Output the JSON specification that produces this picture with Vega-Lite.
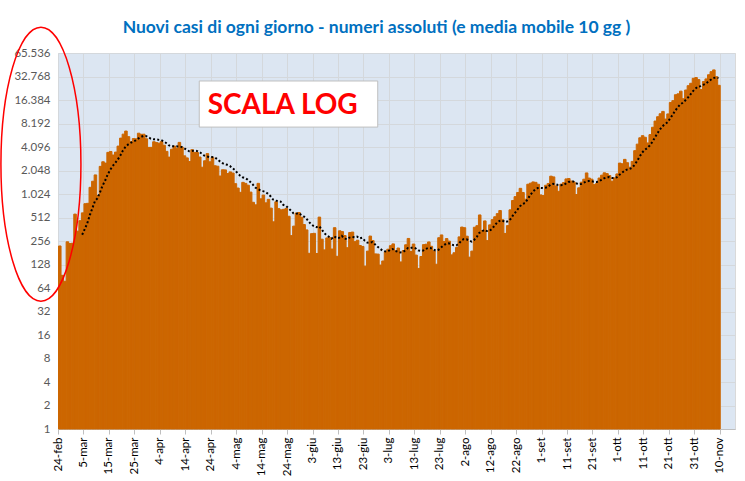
{
  "$schema": "https://vega.github.io/schema/vega-lite/v6.json",
  "autosize": {"type": "none"},
  "width": 677,
  "height": 376,
  "padding": {"left": 58, "top": 53, "right": 10, "bottom": 52},
  "background": "#FFFFFF",
  "title": {
    "text": "Nuovi casi di ogni giorno - numeri assoluti (e media mobile 10 gg )",
    "font": "Lato", "fontSize": 17.5, "fontWeight": "bold", "color": "#0070C0",
    "anchor": "middle", "dx": -20, "dy": 28, "offset": 16
  },
  "resolve": {"axis": {"x": "independent", "y": "independent"}},
  "config": {
    "view": {"fill": "#DCE6F2", "stroke": "#D9D9D9"},
    "axis": {"labelFont": "Lato", "labelFontSize": 11.5, "labelColor": "#595959", "gridColor": "#D4D8DC", "gridWidth": 1, "domainColor": "#BFBFBF", "tickColor": "#BFBFBF", "title": null, "labelOverlap": false},
    "axisX": {"labelOverlap": false, "labelSeparation": 0}
  },
  "datasets": {
    "casi": [
      {"d":"2020-02-24","n":221},{"d":"2020-02-25","n":93},{"d":"2020-02-26","n":78},{"d":"2020-02-27","n":250},{"d":"2020-02-28","n":238},{"d":"2020-02-29","n":240},
      {"d":"2020-03-01","n":566},{"d":"2020-03-02","n":342},{"d":"2020-03-03","n":466},{"d":"2020-03-04","n":587},{"d":"2020-03-05","n":769},{"d":"2020-03-06","n":778},{"d":"2020-03-07","n":1247},{"d":"2020-03-08","n":1492},{"d":"2020-03-09","n":1797},{"d":"2020-03-10","n":977},{"d":"2020-03-11","n":2313},{"d":"2020-03-12","n":2651},{"d":"2020-03-13","n":2547},{"d":"2020-03-14","n":3497},{"d":"2020-03-15","n":3590},{"d":"2020-03-16","n":3233},{"d":"2020-03-17","n":3526},{"d":"2020-03-18","n":4207},{"d":"2020-03-19","n":5322},{"d":"2020-03-20","n":5986},{"d":"2020-03-21","n":6557},{"d":"2020-03-22","n":5560},{"d":"2020-03-23","n":4789},{"d":"2020-03-24","n":5249},{"d":"2020-03-25","n":5210},{"d":"2020-03-26","n":6153},{"d":"2020-03-27","n":5959},{"d":"2020-03-28","n":5974},{"d":"2020-03-29","n":5217},{"d":"2020-03-30","n":4050},{"d":"2020-03-31","n":4053},
      {"d":"2020-04-01","n":4782},{"d":"2020-04-02","n":4668},{"d":"2020-04-03","n":4585},{"d":"2020-04-04","n":4805},{"d":"2020-04-05","n":4316},{"d":"2020-04-06","n":3599},{"d":"2020-04-07","n":3039},{"d":"2020-04-08","n":3836},{"d":"2020-04-09","n":4204},{"d":"2020-04-10","n":3951},{"d":"2020-04-11","n":4694},{"d":"2020-04-12","n":4092},{"d":"2020-04-13","n":3153},{"d":"2020-04-14","n":2972},{"d":"2020-04-15","n":2667},{"d":"2020-04-16","n":3786},{"d":"2020-04-17","n":3493},{"d":"2020-04-18","n":3491},{"d":"2020-04-19","n":3047},{"d":"2020-04-20","n":2256},{"d":"2020-04-21","n":2729},{"d":"2020-04-22","n":3370},{"d":"2020-04-23","n":2646},{"d":"2020-04-24","n":3021},{"d":"2020-04-25","n":2357},{"d":"2020-04-26","n":2324},{"d":"2020-04-27","n":1739},{"d":"2020-04-28","n":2091},{"d":"2020-04-29","n":2086},{"d":"2020-04-30","n":1872},
      {"d":"2020-05-01","n":1965},{"d":"2020-05-02","n":1900},{"d":"2020-05-03","n":1389},{"d":"2020-05-04","n":1221},{"d":"2020-05-05","n":1075},{"d":"2020-05-06","n":1444},{"d":"2020-05-07","n":1401},{"d":"2020-05-08","n":1327},{"d":"2020-05-09","n":1083},{"d":"2020-05-10","n":802},{"d":"2020-05-11","n":744},{"d":"2020-05-12","n":1402},{"d":"2020-05-13","n":888},{"d":"2020-05-14","n":992},{"d":"2020-05-15","n":789},{"d":"2020-05-16","n":875},{"d":"2020-05-17","n":675},{"d":"2020-05-18","n":451},{"d":"2020-05-19","n":813},{"d":"2020-05-20","n":665},{"d":"2020-05-21","n":642},{"d":"2020-05-22","n":652},{"d":"2020-05-23","n":669},{"d":"2020-05-24","n":531},{"d":"2020-05-25","n":300},{"d":"2020-05-26","n":397},{"d":"2020-05-27","n":584},{"d":"2020-05-28","n":593},{"d":"2020-05-29","n":516},{"d":"2020-05-30","n":416},{"d":"2020-05-31","n":355},
      {"d":"2020-06-01","n":178},{"d":"2020-06-02","n":318},{"d":"2020-06-03","n":321},{"d":"2020-06-04","n":177},{"d":"2020-06-05","n":518},{"d":"2020-06-06","n":270},{"d":"2020-06-07","n":197},{"d":"2020-06-08","n":280},{"d":"2020-06-09","n":283},{"d":"2020-06-10","n":202},{"d":"2020-06-11","n":379},{"d":"2020-06-12","n":163},{"d":"2020-06-13","n":346},{"d":"2020-06-14","n":338},{"d":"2020-06-15","n":301},{"d":"2020-06-16","n":210},{"d":"2020-06-17","n":329},{"d":"2020-06-18","n":333},{"d":"2020-06-19","n":251},{"d":"2020-06-20","n":262},{"d":"2020-06-21","n":224},{"d":"2020-06-22","n":218},{"d":"2020-06-23","n":122},{"d":"2020-06-24","n":190},{"d":"2020-06-25","n":296},{"d":"2020-06-26","n":259},{"d":"2020-06-27","n":175},{"d":"2020-06-28","n":174},{"d":"2020-06-29","n":126},{"d":"2020-06-30","n":142},
      {"d":"2020-07-01","n":187},{"d":"2020-07-02","n":201},{"d":"2020-07-03","n":223},{"d":"2020-07-04","n":235},{"d":"2020-07-05","n":192},{"d":"2020-07-06","n":208},{"d":"2020-07-07","n":138},{"d":"2020-07-08","n":193},{"d":"2020-07-09","n":229},{"d":"2020-07-10","n":276},{"d":"2020-07-11","n":188},{"d":"2020-07-12","n":234},{"d":"2020-07-13","n":169},{"d":"2020-07-14","n":114},{"d":"2020-07-15","n":162},{"d":"2020-07-16","n":230},{"d":"2020-07-17","n":233},{"d":"2020-07-18","n":249},{"d":"2020-07-19","n":219},{"d":"2020-07-20","n":190},{"d":"2020-07-21","n":129},{"d":"2020-07-22","n":282},{"d":"2020-07-23","n":306},{"d":"2020-07-24","n":252},{"d":"2020-07-25","n":275},{"d":"2020-07-26","n":255},{"d":"2020-07-27","n":170},{"d":"2020-07-28","n":181},{"d":"2020-07-29","n":212},{"d":"2020-07-30","n":289},{"d":"2020-07-31","n":386},
      {"d":"2020-08-01","n":379},{"d":"2020-08-02","n":295},{"d":"2020-08-03","n":159},{"d":"2020-08-04","n":190},{"d":"2020-08-05","n":384},{"d":"2020-08-06","n":402},{"d":"2020-08-07","n":552},{"d":"2020-08-08","n":347},{"d":"2020-08-09","n":463},{"d":"2020-08-10","n":259},{"d":"2020-08-11","n":412},{"d":"2020-08-12","n":481},{"d":"2020-08-13","n":523},{"d":"2020-08-14","n":574},{"d":"2020-08-15","n":629},{"d":"2020-08-16","n":479},{"d":"2020-08-17","n":320},{"d":"2020-08-18","n":403},{"d":"2020-08-19","n":642},{"d":"2020-08-20","n":845},{"d":"2020-08-21","n":947},{"d":"2020-08-22","n":1071},{"d":"2020-08-23","n":1210},{"d":"2020-08-24","n":1071},{"d":"2020-08-25","n":878},{"d":"2020-08-26","n":1367},{"d":"2020-08-27","n":1411},{"d":"2020-08-28","n":1462},{"d":"2020-08-29","n":1444},{"d":"2020-08-30","n":1365},{"d":"2020-08-31","n":996},
      {"d":"2020-09-01","n":978},{"d":"2020-09-02","n":1326},{"d":"2020-09-03","n":1397},{"d":"2020-09-04","n":1733},{"d":"2020-09-05","n":1695},{"d":"2020-09-06","n":1297},{"d":"2020-09-07","n":1108},{"d":"2020-09-08","n":1370},{"d":"2020-09-09","n":1434},{"d":"2020-09-10","n":1597},{"d":"2020-09-11","n":1616},{"d":"2020-09-12","n":1501},{"d":"2020-09-13","n":1458},{"d":"2020-09-14","n":1008},{"d":"2020-09-15","n":1229},{"d":"2020-09-16","n":1452},{"d":"2020-09-17","n":1585},{"d":"2020-09-18","n":1907},{"d":"2020-09-19","n":1638},{"d":"2020-09-20","n":1587},{"d":"2020-09-21","n":1350},{"d":"2020-09-22","n":1392},{"d":"2020-09-23","n":1640},{"d":"2020-09-24","n":1786},{"d":"2020-09-25","n":1912},{"d":"2020-09-26","n":1869},{"d":"2020-09-27","n":1766},{"d":"2020-09-28","n":1494},{"d":"2020-09-29","n":1648},{"d":"2020-09-30","n":1851},
      {"d":"2020-10-01","n":2548},{"d":"2020-10-02","n":2499},{"d":"2020-10-03","n":2844},{"d":"2020-10-04","n":2578},{"d":"2020-10-05","n":2257},{"d":"2020-10-06","n":2677},{"d":"2020-10-07","n":3678},{"d":"2020-10-08","n":4458},{"d":"2020-10-09","n":5372},{"d":"2020-10-10","n":5724},{"d":"2020-10-11","n":5456},{"d":"2020-10-12","n":4619},{"d":"2020-10-13","n":5901},{"d":"2020-10-14","n":7332},{"d":"2020-10-15","n":8804},{"d":"2020-10-16","n":10010},{"d":"2020-10-17","n":10925},{"d":"2020-10-18","n":11705},{"d":"2020-10-19","n":9338},{"d":"2020-10-20","n":10874},{"d":"2020-10-21","n":15199},{"d":"2020-10-22","n":16079},{"d":"2020-10-23","n":19143},{"d":"2020-10-24","n":19644},{"d":"2020-10-25","n":21273},{"d":"2020-10-26","n":17012},{"d":"2020-10-27","n":21994},{"d":"2020-10-28","n":24991},{"d":"2020-10-29","n":26831},{"d":"2020-10-30","n":31084},{"d":"2020-10-31","n":31758},
      {"d":"2020-11-01","n":29907},{"d":"2020-11-02","n":22253},{"d":"2020-11-03","n":28244},{"d":"2020-11-04","n":30550},{"d":"2020-11-05","n":34505},{"d":"2020-11-06","n":37809},{"d":"2020-11-07","n":39811},{"d":"2020-11-08","n":32616},{"d":"2020-11-09","n":25271}
    ],
    "box": [{"x1":"2020-04-19T12:00:00Z","x2":"2020-06-28T15:00:00Z","y1":7370,"y2":28700}],
    "label": [{"x":"2020-05-22T07:00:00Z","y":13700,"t":"SCALA LOG"}],
    "ring": [{"x":"2020-02-17T07:00:00Z","y":2470}]
  },
  "layer": [
    {
      "data": {"name": "casi"},
      "mark": {"type": "bar", "color": "#CC6600", "stroke": "#CC6600", "strokeWidth": 1, "binSpacing": 0},
      "encoding": {
        "x": {"field": "d", "type": "temporal", "timeUnit": "utcyearmonthdate",
          "scale": {"type": "utc", "domain": [{"year": 2020, "month": 2, "date": 24, "utc": true}, {"year": 2020, "month": 11, "date": 16, "utc": true}]},
          "axis": {
            "values": [
              {"year":2020,"month":2,"date":24,"utc":true},{"year":2020,"month":3,"date":5,"utc":true},{"year":2020,"month":3,"date":15,"utc":true},{"year":2020,"month":3,"date":25,"utc":true},
              {"year":2020,"month":4,"date":4,"utc":true},{"year":2020,"month":4,"date":14,"utc":true},{"year":2020,"month":4,"date":24,"utc":true},
              {"year":2020,"month":5,"date":4,"utc":true},{"year":2020,"month":5,"date":14,"utc":true},{"year":2020,"month":5,"date":24,"utc":true},
              {"year":2020,"month":6,"date":3,"utc":true},{"year":2020,"month":6,"date":13,"utc":true},{"year":2020,"month":6,"date":23,"utc":true},
              {"year":2020,"month":7,"date":3,"utc":true},{"year":2020,"month":7,"date":13,"utc":true},{"year":2020,"month":7,"date":23,"utc":true},
              {"year":2020,"month":8,"date":2,"utc":true},{"year":2020,"month":8,"date":12,"utc":true},{"year":2020,"month":8,"date":22,"utc":true},
              {"year":2020,"month":9,"date":1,"utc":true},{"year":2020,"month":9,"date":11,"utc":true},{"year":2020,"month":9,"date":21,"utc":true},
              {"year":2020,"month":10,"date":1,"utc":true},{"year":2020,"month":10,"date":11,"utc":true},{"year":2020,"month":10,"date":21,"utc":true},{"year":2020,"month":10,"date":31,"utc":true},
              {"year":2020,"month":11,"date":10,"utc":true}
            ],
            "labelExpr": "utcdate(datum.value) + '-' + ['gen','feb','mar','apr','mag','giu','lug','ago','set','ott','nov','dic'][utcmonth(datum.value)]",
            "labelAngle": -90, "labelColor": "#000000", "labelPadding": 3, "tickSize": 5, "grid": true, "labelOverlap": false, "labelFlush": false, "labelSeparation": 0
          }
        },
        "y": {"field": "n", "type": "quantitative",
          "scale": {"type": "log", "base": 2, "domain": [1, 65536], "nice": false},
          "axis": {"values": [1,2,4,8,16,32,64,128,256,512,1024,2048,4096,8192,16384,32768,65536],
            "labelExpr": "replace(format(datum.value, ','), ',', '.')",
            "ticks": false, "domain": false, "labelPadding": 8, "grid": true, "labelOverlap": false}
        },
        "y2": {"datum": 1}
      }
    },
    {
      "data": {"name": "casi"},
      "transform": [
        {"window": [{"op": "mean", "field": "n", "as": "ma"}, {"op": "count", "as": "cnt"}], "frame": [-9, 0], "sort": [{"field": "d"}]},
        {"filter": "datum.cnt >= 10"}
      ],
      "mark": {"type": "line", "color": "#000000", "strokeWidth": 2, "strokeDash": [2, 2.2]},
      "encoding": {
        "x": {"field": "d", "type": "temporal", "timeUnit": "utcyearmonthdate", "bandPosition": 0.5, "axis": null},
        "y": {"field": "ma", "type": "quantitative", "axis": null}
      }
    },
    {
      "data": {"name": "box"},
      "mark": {"type": "rect", "fill": "#FFFFFF", "stroke": "#BFBFBF", "strokeWidth": 1},
      "encoding": {
        "x": {"field": "x1", "type": "temporal", "axis": null},
        "x2": {"field": "x2"},
        "y": {"field": "y1", "type": "quantitative", "axis": null},
        "y2": {"field": "y2"}
      }
    },
    {
      "data": {"name": "label"},
      "mark": {"type": "text", "font": "Lato", "fontSize": 28, "fontWeight": "bold", "color": "#FF0000", "align": "center", "baseline": "middle"},
      "encoding": {
        "x": {"field": "x", "type": "temporal", "axis": null},
        "y": {"field": "y", "type": "quantitative", "axis": null},
        "text": {"field": "t"}
      }
    },
    {
      "data": {"name": "ring"},
      "mark": {"type": "point", "filled": false, "stroke": "#FF0000", "strokeWidth": 1.5, "opacity": 1, "clip": false,
        "shape": "M 0 -1 C 0.161 -1 0.292 -0.552 0.292 0 C 0.292 0.552 0.161 1 0 1 C -0.161 1 -0.292 0.552 -0.292 0 C -0.292 -0.552 -0.161 -1 0 -1 Z",
        "size": 75076},
      "encoding": {
        "x": {"field": "x", "type": "temporal", "axis": null},
        "y": {"field": "y", "type": "quantitative", "axis": null}
      }
    }
  ]
}
